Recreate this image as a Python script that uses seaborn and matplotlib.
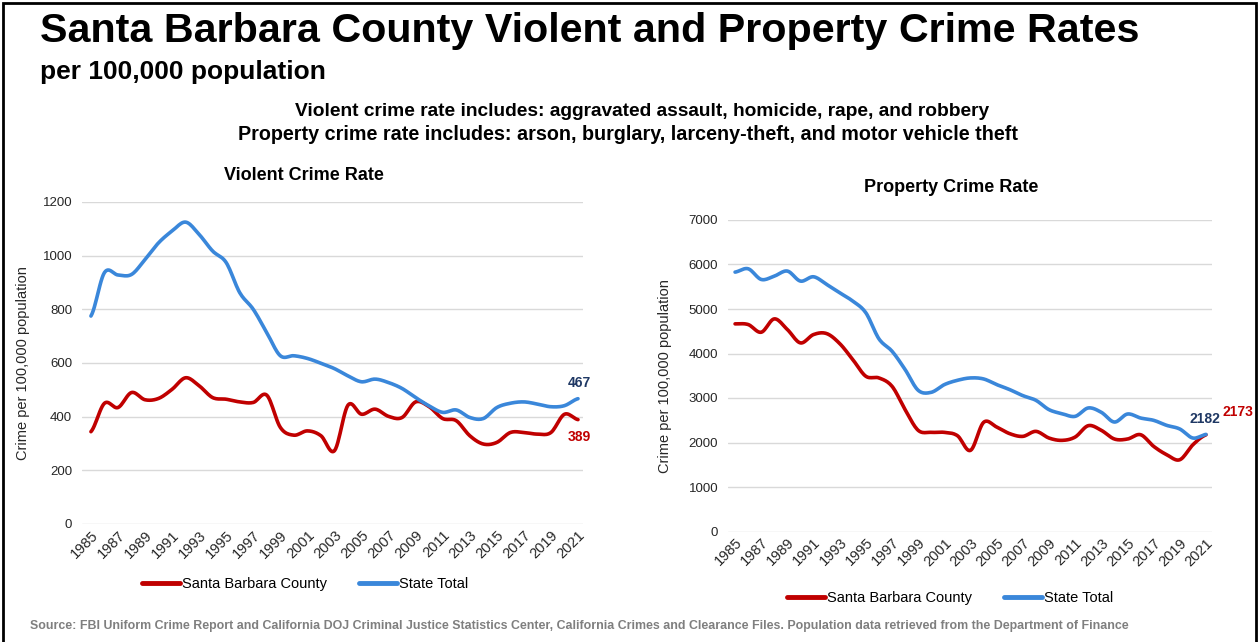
import matplotlib
matplotlib.use("Agg")
import matplotlib.pyplot as plt
from matplotlib.lines import Line2D
from matplotlib.patches import Rectangle
import numpy as np
import seaborn as sns

years = list(range(1985, 2022))

violent_sb = [344, 450, 434, 490, 463, 468, 502, 545, 515, 471, 465, 455, 453, 480,
              360, 331, 347, 329, 273, 443, 409, 428, 401, 397, 455, 437, 393, 385,
              329, 298, 304, 341, 341, 335, 341, 409, 389]
violent_state = [775, 937, 928, 930, 986, 1048, 1092, 1125, 1079, 1017, 974, 862, 800,
                 713, 627, 627, 617, 599, 579, 552, 530, 540, 527, 505, 471, 440, 416,
                 425, 397, 393, 434, 450, 455, 447, 437, 441, 467]

property_sb = [4666, 4651, 4478, 4778, 4538, 4238, 4426, 4448, 4223, 3863, 3488, 3451,
               3263, 2738, 2273, 2228, 2228, 2153, 1823, 2453, 2348, 2198, 2138, 2250,
               2100, 2048, 2123, 2378, 2273, 2078, 2078, 2175, 1913, 1725, 1613, 1950, 2173]
property_state = [5829, 5904, 5664, 5739, 5852, 5627, 5724, 5552, 5364, 5177, 4914, 4329,
                  4051, 3639, 3173, 3128, 3301, 3398, 3451, 3428, 3301, 3188, 3053, 2948,
                  2738, 2648, 2588, 2776, 2678, 2460, 2640, 2550, 2498, 2385, 2303, 2100, 2182]

series_names = ["Santa Barbara County", "State Total"]
RED = "#C00000"
BLUE = "#3A87DA"
NAVY = "#1F3864"
W, H = 1259, 642


def smooth(x, y, steps=12):
    # Catmull-Rom style smoothing, like the "smoothed line" option in Excel
    x = np.asarray(x, float)
    y = np.asarray(y, float)
    px = np.concatenate([[x[0]], x, [x[-1]]])
    py = np.concatenate([[y[0]], y, [y[-1]]])
    xs, ys = [], []
    t = np.linspace(0, 1, steps, endpoint=False)
    for i in range(1, len(px) - 2):
        p0, p1, p2, p3 = py[i - 1], py[i], py[i + 1], py[i + 2]
        ys.append(0.5 * ((2 * p1) + (-p0 + p2) * t + (2 * p0 - 5 * p1 + 4 * p2 - p3) * t ** 2
                         + (-p0 + 3 * p1 - 3 * p2 + p3) * t ** 3))
        xs.append(px[i] + (px[i + 1] - px[i]) * t)
    xs.append([x[-1]])
    ys.append([y[-1]])
    return np.concatenate(xs), np.concatenate(ys)


def draw_panel(ax, sb, state, ymax, ystep, xlim):
    for vals, color in [(sb, RED), (state, BLUE)]:
        sx, sy = smooth(years, vals)
        sns.lineplot(x=sx, y=sy, ax=ax, color=color, linewidth=2.6, sort=False)
    ax.set_xlim(*xlim)
    ax.set_ylim(0, ymax)
    ax.set_yticks(np.arange(0, ymax + 1, ystep))
    ax.set_xticks(years[::2])
    ax.set_xticklabels([str(y) for y in years[::2]], rotation=45, ha="right",
                       rotation_mode="anchor", fontsize=10.5, color="#262626")
    ax.tick_params(axis="y", labelsize=9.5, colors="#262626", length=0, pad=7)
    ax.tick_params(axis="x", length=0, pad=3)
    ax.grid(axis="y", color="#D9D9D9", linewidth=1)
    ax.grid(axis="x", visible=False)
    for s in ax.spines.values():
        s.set_visible(False)
    ax.set_xlabel("")


def px_text(x, y, s, **kw):
    fig.text(x / W, 1 - y / H, s, **kw)


sns.set_style("white")
plt.rcParams["font.family"] = ["Liberation Sans", "DejaVu Sans"]
plt.rcParams["text.color"] = "black"

fig = plt.figure(figsize=(12.59, 6.42), dpi=100)

# violent crime panel
ax1 = fig.add_axes([82 / W, 1 - 524 / H, (583 - 82) / W, (524 - 202) / H])
draw_panel(ax1, violent_sb, violent_state, 1200, 200, (1984.34, 2021.37))
ax1.set_ylabel("Crime per 100,000 population", fontsize=10.5, color="#262626", labelpad=9)
px_text(304, 176, "Violent Crime Rate", fontsize=13, fontweight="bold", ha="center", va="center")
px_text(579, 383, str(violent_state[-1]), color=NAVY, fontsize=10, fontweight="bold",
        ha="center", va="center")
px_text(579, 437, str(violent_sb[-1]), color=RED, fontsize=10, fontweight="bold",
        ha="center", va="center")

# property crime panel
ax2 = fig.add_axes([728 / W, 1 - 531.5 / H, (1212 - 728) / W, (531.5 - 220) / H])
draw_panel(ax2, property_sb, property_state, 7000, 1000, (1984.46, 2021.46))
ax2.set_ylabel("Crime per 100,000 population", fontsize=10.5, color="#262626", labelpad=12)
px_text(951, 187, "Property Crime Rate", fontsize=13, fontweight="bold", ha="center", va="center")
px_text(1205, 419, str(property_state[-1]), color=NAVY, fontsize=10, fontweight="bold",
        ha="center", va="center")
px_text(1238, 412, str(property_sb[-1]), color=RED, fontsize=10, fontweight="bold",
        ha="center", va="center")

handles = [Line2D([], [], color=RED, linewidth=3.5), Line2D([], [], color=BLUE, linewidth=3.5)]
fig.legend(handles, series_names, loc="center", bbox_to_anchor=(305 / W, 1 - 584 / H), ncol=2,
           frameon=False, fontsize=10.5, handlelength=2.6, handletextpad=0.15, columnspacing=2.2)
fig.legend(handles, series_names, loc="center", bbox_to_anchor=(950 / W, 1 - 598 / H), ncol=2,
           frameon=False, fontsize=10.5, handlelength=2.6, handletextpad=0.15, columnspacing=2.2)

px_text(40, 31, "Santa Barbara County Violent and Property Crime Rates",
        fontsize=29.7, fontweight="bold", ha="left", va="center")
px_text(40, 72, "per 100,000 population", fontsize=19, fontweight="bold",
        ha="left", va="center")
px_text(642, 112, "Violent crime rate includes: aggravated assault, homicide, rape, and robbery",
        fontsize=13.8, fontweight="bold", ha="center", va="center")
px_text(628, 134, "Property crime rate includes: arson, burglary, larceny-theft, and motor vehicle theft",
        fontsize=14.2, fontweight="bold", ha="center", va="center")
px_text(30, 626, "Source: FBI Uniform Crime Report and California DOJ Criminal Justice Statistics "
        "Center, California Crimes and Clearance Files. Population data retrieved from the Department of Finance",
        fontsize=8.9, fontweight="bold", color="#7F7F7F", ha="left", va="center")

# slide frame
fig.add_artist(Rectangle((0.002, -0.01), 0.996, 1.006, transform=fig.transFigure,
                         fill=False, edgecolor="black", linewidth=2))

fig.savefig("out.png", dpi=100)
plt.close(fig)
